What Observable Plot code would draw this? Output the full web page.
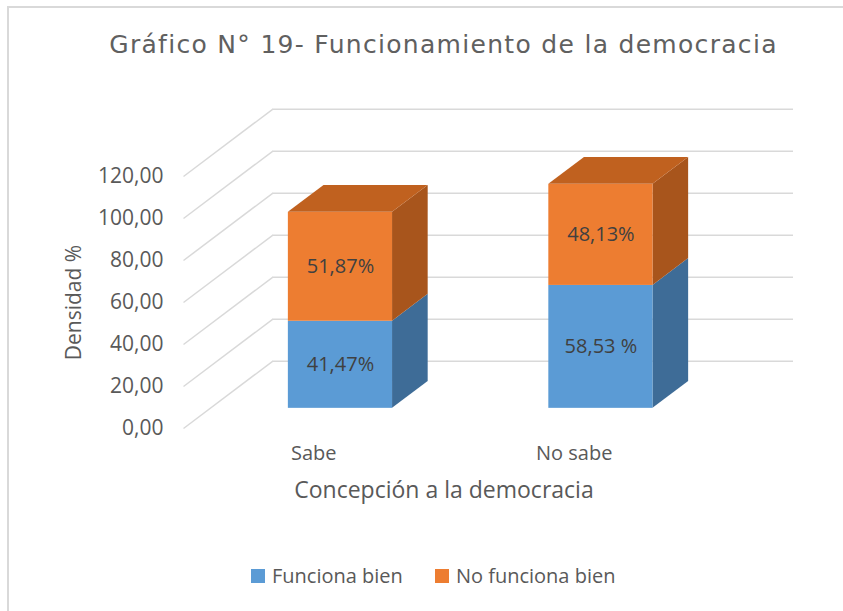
<!DOCTYPE html>
<html><head><meta charset="utf-8">
<script src="https://cdn.jsdelivr.net/npm/d3@7"></script>
<script src="https://cdn.jsdelivr.net/npm/@observablehq/plot@0.6"></script>
<style>
body{margin:0;background:#fff;overflow:hidden;}
#wrap{position:relative;width:843px;height:611px;overflow:hidden;font-family:"Open Sans",sans-serif;color:#595959;background:#fff;}
#frame{position:absolute;left:7px;top:6px;width:900px;height:700px;border-left:2px solid #d9d9d9;border-top:2px solid #d9d9d9;}
#title{position:absolute;left:0;top:29px;width:887px;text-align:center;font-family:"DejaVu Sans",sans-serif;font-size:25px;letter-spacing:1.3px;line-height:32px;color:#606060;}
#plot{position:absolute;left:0;top:90px;}
#legend{position:absolute;left:251px;top:559px;}
#legend span{margin-right:32px !important;}
#legend span > svg{margin-right:7px !important;}
</style></head><body>
<div id="wrap"><div id="frame"></div><div id="title"></div><div id="plot"></div><div id="legend"></div></div>
<script>
// ---- data ----
const chartTitle = "Gráfico N° 19- Funcionamiento de la democracia";
const categories = ["Sabe", "No sabe"];
const series = ["Funciona bien", "No funciona bien"];
const funcionaBien = [41.47, 58.53];
const noFuncionaBien = [51.87, 48.13];
const labelsFuncionaBien = ["41,47%", "58,53 %"];
const labelsNoFuncionaBien = ["51,87%", "48,13%"];
const yTicks = [0, 20, 40, 60, 80, 100, 120];
const yTickLabels = ["0,00", "20,00", "40,00", "60,00", "80,00", "100,00", "120,00"];
const xTitle = "Concepción a la democracia";
const yTitle = "Densidad %";

// ---- style / 3D projection ----
const frontColors = ["#5b9bd5", "#ed7d31"];
const sideColors = ["#3e6c97", "#a8551c"];
const topColors = ["#4a82b6", "#c0611f"];
const DX = 0.342, DY = 32;         // depth offset (category units, value units)
const Z0 = 0.3, Z1 = 0.7;          // bar depth range
const B0 = 0.3, B1 = 0.7;          // bar width within category band
const px = (u, z) => u + z * DX;
const py = (v, z) => v + z * DY;

document.getElementById("title").textContent = chartTitle;

const valueArrays = [funcionaBien, noFuncionaBien];
const labelArrays = [labelsFuncionaBien, labelsNoFuncionaBien];
const segments = [];
categories.forEach((c, i) => {
  let base = 0;
  series.forEach((s, k) => {
    const v = valueArrays[k][i];
    segments.push({cat: c, i, k, series: s, lo: base, hi: base + v, label: labelArrays[k][i], isTop: k === series.length - 1});
    base += v;
  });
});
const sidePts = segments.flatMap(d => [Z0, Z1].map(z => ({...d, id: d.cat + "|" + d.k, z})));
const topPts = segments.filter(d => d.isTop).flatMap(d => [Z0, Z1].map(z => ({...d, id: d.cat, z})));
const yMid = (yTicks[0] + yTicks[yTicks.length - 1]) / 2;

const marks = [
  // back wall gridlines
  Plot.ruleY(yTicks, {y: v => py(v, 1), x1: px(0, 1), x2: px(categories.length, 1), stroke: "#d9d9d9", strokeWidth: 1.5}),
  // side wall gridlines (diagonals)
  Plot.link(yTicks, {x1: 0, y1: v => v, x2: DX, y2: v => py(v, 1), stroke: "#d9d9d9", strokeWidth: 1.5}),
  // y tick labels
  Plot.text(yTicks, {x: 0, y: v => v, text: (v, i) => yTickLabels[i], textAnchor: "end", dx: -20, fontSize: 21, fill: "#595959"}),
  // y title
  Plot.text([{label: yTitle, v: yMid}], {x: 0, y: "v", text: "label", rotate: -90, dx: -109, fontSize: 21, fill: "#595959"}),
  // category labels
  Plot.text(categories, {x: (c, i) => i + 0.5, frameAnchor: "bottom", dy: 31, fontSize: 20, fill: "#595959"}),
  // x title
  Plot.text([xTitle], {x: () => categories.length / 2, frameAnchor: "bottom", dy: 69, fontSize: 23, fill: "#595959"})
];
series.forEach((s, k) => {
  marks.push(
    Plot.areaY(sidePts.filter(d => d.k === k), {x: d => px(d.i + B1, d.z), y1: d => py(d.lo, d.z), y2: d => py(d.hi, d.z), z: "id", fill: sideColors[k]}),
    Plot.rect(segments.filter(d => d.k === k), {x1: d => px(d.i + B0, Z0), x2: d => px(d.i + B1, Z0), y1: d => py(d.lo, Z0), y2: d => py(d.hi, Z0), fill: "series"})
  );
});
marks.push(
  Plot.areaX(topPts, {y: d => py(d.hi, d.z), x1: d => px(d.i + B0, d.z), x2: d => px(d.i + B1, d.z), z: "id", fill: d => topColors[d.k]}),
  Plot.text(segments, {x: d => px(d.i + 0.5, Z0), y: d => py((d.lo + d.hi) / 2, Z0), text: "label", fill: "#404040", fontSize: 20})
);

const chart = Plot.plot({
  width: 843,
  height: 440,
  marginLeft: 183,
  marginRight: 50,
  marginTop: 2,
  marginBottom: 102,
  x: {domain: [0, px(categories.length, 1)], axis: null},
  y: {domain: [0, 160], axis: null},
  color: {domain: series, range: frontColors},
  style: {fontFamily: "'Open Sans', sans-serif", background: "transparent", color: "#595959", overflow: "visible"},
  marks
});
document.getElementById("plot").appendChild(chart);

const legend = chart.legend("color", {swatchSize: 14, style: {fontFamily: "'Open Sans', sans-serif", fontSize: "20px", color: "#595959"}});
document.getElementById("legend").appendChild(legend);
</script>
</body></html>
